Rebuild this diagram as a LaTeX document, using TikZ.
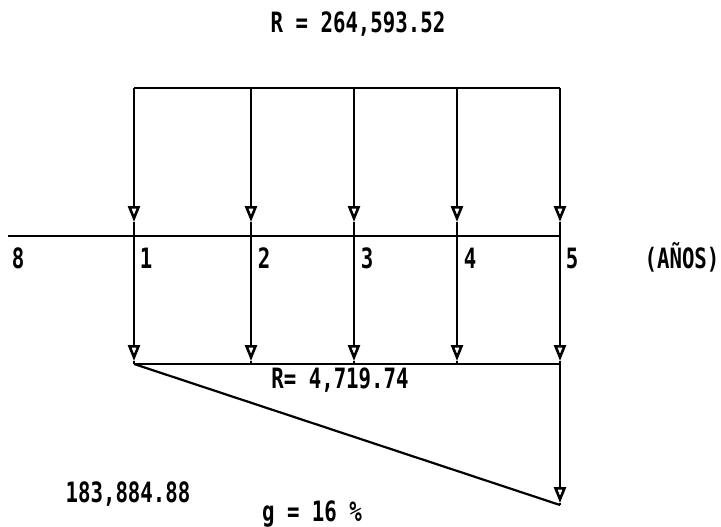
\documentclass[tikz,border=0pt]{standalone}
\usepackage{fontspec}
\setmainfont[FakeStretch=0.74]{DejaVu Sans Mono}
\usetikzlibrary{arrows.meta}
\tikzset{
  ln/.style={line width=2.2pt},
  harr/.style={ln,-{Triangle[open,length=16pt,width=12pt,line width=2.6pt]}},
  lbl/.style={anchor=base,inner sep=0pt,font=\fontsize{28}{28}\selectfont\bfseries}
}
\begin{document}
\begin{tikzpicture}[x=1pt,y=-1pt]
\useasboundingbox (0,0) rectangle (721,527);
% columns
\foreach \i/\x in {1/134,2/251,3/354,4/457,5/560}{
  \coordinate (t\i) at (\x,88);
  \coordinate (m\i) at (\x,222);
  \coordinate (p\i) at (\x,361);
  \coordinate (b\i) at (\x,364);
}
\coordinate (q5) at (560,503);
\coordinate (e5) at (560,505);
\coordinate (a0) at (8,236);
\coordinate (a5) at (561,236);
% frame lines
\draw[ln] (t1) -- (t5);
\draw[ln] (a0) -- (a5);
\draw[ln] (b1) -- (b5);
\draw[ln] (b1) -- (e5);
\foreach \i in {1,...,5}{
  \draw[harr] (t\i) -- (m\i);
  \draw[harr] (m\i) -- (p\i);
  \draw[ln] (p\i) -- (b\i);
}
\draw[harr] (b5) -- (q5);
\draw[ln] (q5) -- (e5);
% labels
\node[lbl] (rtop) at (358,33) {R = 264,593.52};
\node[lbl] (l0) at (18,268) {8};
\node[lbl] (l1) at (146,268) {1};
\node[lbl] (l2) at (264,268) {2};
\node[lbl] (l3) at (367,268) {3};
\node[lbl] (l4) at (470,268) {4};
\node[lbl] (l5) at (572,268) {5};
\node[lbl] (anos) at (682,268) {(AÑOS)};
\node[lbl] (rmid) at (340,388) {R= 4,719.74};
\node[lbl] (pv) at (128,502) {183,884.88};
\node[lbl] (g) at (312,521) {g = 16 \%};
\end{tikzpicture}
\end{document}
